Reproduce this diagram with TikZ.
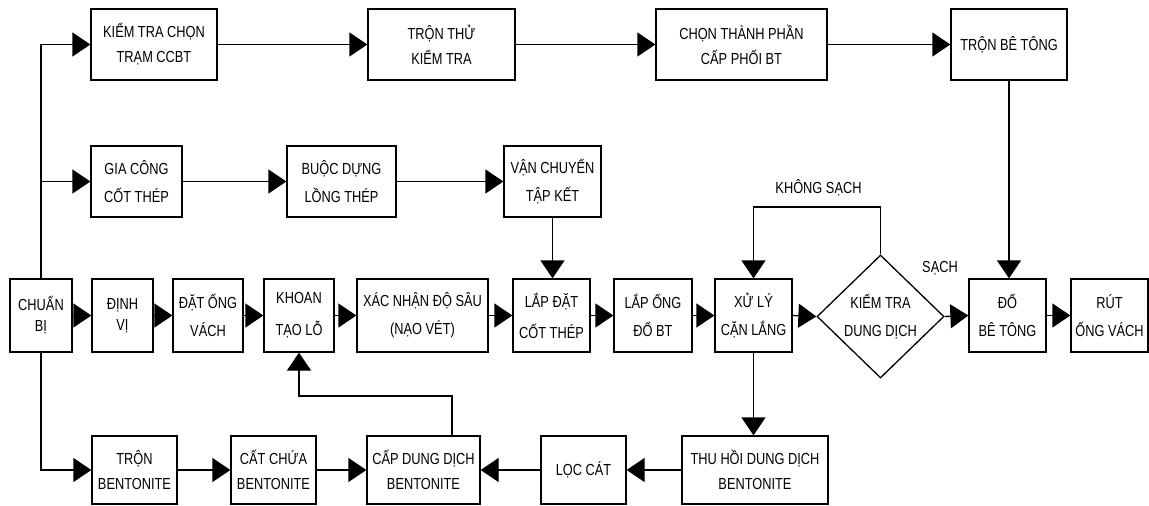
\documentclass[tikz,border=0pt]{standalone}
\usepackage{fontspec}
\setmainfont{Liberation Sans}[FakeStretch=0.8]
\usetikzlibrary{arrows.meta,shapes.geometric}
\begin{document}
\begin{tikzpicture}[x=1pt,y=-1pt,
  box/.style={draw, line width=1.3pt, align=center, inner sep=0pt,
              font=\fontsize{16}{28}\selectfont},
  tight/.style={font=\fontsize{16}{21}\selectfont},
  mid/.style={font=\fontsize{16}{25}\selectfont},
  flow/.style={line width=1.3pt, -{Triangle[length=18pt,width=24pt]}},
  lbl/.style={font=\fontsize{16}{20}\selectfont}
]
\useasboundingbox (0,0) rectangle (1149,506);

% top row: concrete supply
\node[box, mid, minimum width=126pt, minimum height=71pt] (kt) at (154,44.5) {KIỂM TRA CHỌN\\TRẠM CCBT};
\node[box, mid, minimum width=147pt, minimum height=71pt] (tt) at (441.5,44.5) {TRỘN THỬ\\KIỂM TRA};
\node[box, mid, minimum width=171pt, minimum height=71pt] (cp) at (741.5,44.5) {CHỌN THÀNH PHẦN\\CẤP PHỐI BT};
\node[box, minimum width=116pt, minimum height=71pt] (tbt) at (1009,44.5) {TRỘN BÊ TÔNG};

% second row: reinforcement cage
\node[box, minimum width=91pt, minimum height=71pt] (gc) at (136.5,181.5) {GIA CÔNG\\CỐT THÉP};
\node[box, minimum width=109pt, minimum height=71pt] (bd) at (341.5,181.5) {BUỘC DỰNG\\LỒNG THÉP};
\node[box, minimum width=97pt, minimum height=71pt] (vc) at (552.5,181.5) {VẬN CHUYỂN\\TẬP KẾT};

% main row: boring sequence
\node[box, tight, minimum width=62pt, minimum height=73pt] (cb) at (41,315.5) {CHUẨN\\BỊ};
\node[box, tight, minimum width=61pt, minimum height=73pt] (dv) at (122.5,315.5) {ĐỊNH\\VỊ};
\node[box, minimum width=70pt, minimum height=73pt] (dov) at (208,315.5) {ĐẶT ỐNG\\VÁCH};
\node[box, font=\fontsize{16}{32}\selectfont, minimum width=70pt, minimum height=73pt] (kh) at (299,315.5) {KHOAN\\TẠO LỖ};
\node[box, minimum width=131pt, minimum height=73pt] (xn) at (422.5,315.5) {XÁC NHẬN ĐỘ SÂU\\(NẠO VÉT)};
\node[box, font=\fontsize{16}{31}\selectfont, minimum width=77pt, minimum height=73pt] (ld) at (551.5,315.5) {LẮP ĐẶT\\CỐT THÉP};
\node[box, minimum width=78pt, minimum height=73pt] (lo) at (653,315.5) {LẮP ỐNG\\ĐỔ BT};
\node[box, minimum width=77pt, minimum height=73pt] (xl) at (753.5,315.5) {XỬ LÝ\\CẶN LẮNG};
\node[box, diamond, minimum width=127pt, minimum height=123pt] (kd) at (880.5,316.5) {KIỂM TRA\\DUNG DỊCH};
\node[box, minimum width=77pt, minimum height=73pt] (do) at (1007.5,315.5) {ĐỔ\\BÊ TÔNG};
\node[box, minimum width=77pt, minimum height=73pt] (rut) at (1109.5,315.5) {RÚT\\ỐNG VÁCH};

% bottom row: bentonite circuit
\node[box, mid, minimum width=85pt, minimum height=68pt] (tb) at (134.5,470) {TRỘN\\BENTONITE};
\node[box, mid, minimum width=85pt, minimum height=68pt] (cc) at (273.5,470) {CẤT CHỨA\\BENTONITE};
\node[box, mid, minimum width=113pt, minimum height=68pt] (cd) at (423.5,470) {CẤP DUNG DỊCH\\BENTONITE};
\node[box, minimum width=85pt, minimum height=68pt] (lc) at (583.5,470) {LỌC CÁT};
\node[box, mid, minimum width=146pt, minimum height=68pt] (th) at (755,470) {THU HỒI DUNG DỊCH\\BENTONITE};

% branch labels
\node[lbl] (ks) at (818.5,187.5) {KHÔNG SẠCH};
\node[lbl] (s) at (940,268) {SẠCH};

% trunk from the preparation step
\draw[flow] (cb.north) |- (kt.west);
\draw[flow] (cb.north |- gc.west) -- (gc.west);
\draw[flow] (cb.south) |- (tb.west);

% top row
\draw[flow] (kt.east) -- (tt.west);
\draw[flow] (tt.east) -- (cp.west);
\draw[flow] (cp.east) -- (tbt.west);
\draw[flow] (tbt.south) -- (tbt.south |- do.north);

% second row
\draw[flow] (gc.east) -- (bd.west);
\draw[flow] (bd.east) -- (vc.west);
\draw[flow] (vc.south) -- (vc.south |- ld.north);

% main row
\draw[flow] (cb.east) -- (dv.west);
\draw[flow] (dv.east) -- (dov.west);
\draw[flow] (dov.east) -- (kh.west);
\draw[flow] (kh.east) -- (xn.west);
\draw[flow] (xn.east) -- (ld.west);
\draw[flow] (ld.east) -- (lo.west);
\draw[flow] (lo.east) -- (xl.west);
\draw[flow] (xl.east) -- (kd.west);
\draw[flow] (kd.east) -- (do.west);
\draw[flow] (do.east) -- (rut.west);

% not clean: back to sediment treatment
\coordinate (kup) at (kd.north |- 0,207);
\draw[flow] (kd.north) -- (kup) -| (xl.north);

% bentonite circuit
\draw[flow] (xl.south) -- (xl.south |- th.north);
\draw[flow] (th.west) -- (lc.east);
\draw[flow] (lc.west) -- (cd.east);
\draw[flow] (tb.east) -- (cc.west);
\draw[flow] (cc.east) -- (cd.west);
\coordinate (cdup) at (452,396);
\draw[flow] (cdup |- cd.north) -- (cdup) -| (kh.south);
\end{tikzpicture}
\end{document}
